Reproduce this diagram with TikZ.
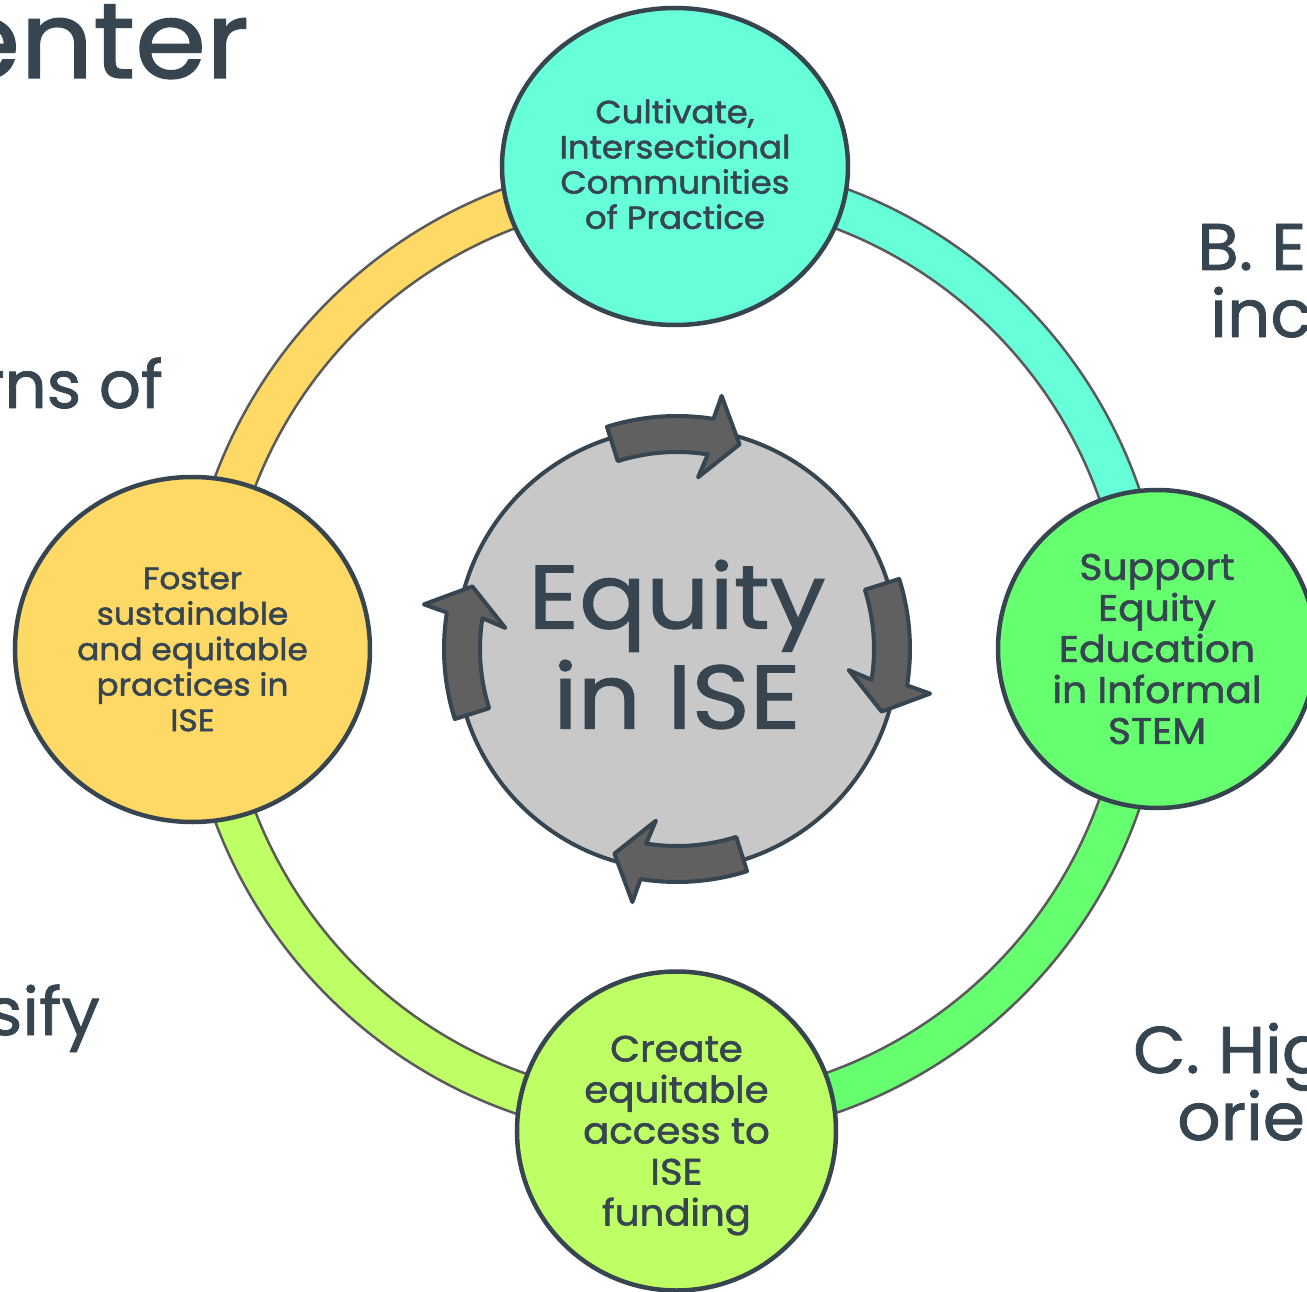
\documentclass[tikz,border=0pt]{standalone}
\usepackage{fontspec}
\setmainfont{Poppins}
\newfontfamily\semibold[FakeBold=1.6, FakeStretch=1.06]{Poppins}
\newfontfamily\medium[FakeBold=1.2, FakeStretch=1.03]{Poppins}
\newfontfamily\mediumnarrow[FakeBold=1.2]{Poppins}
\newfontfamily\bigmedium[FakeBold=1.3, FakeStretch=1.1]{Poppins}
\newfontfamily\headmedium[FakeBold=1.3, FakeStretch=1.07]{Poppins}
\usetikzlibrary{shapes.geometric}

\definecolor{slate}{RGB}{54,69,79}
\definecolor{ringgray}{RGB}{90,90,90}
\definecolor{aquaC}{RGB}{102,255,218}
\definecolor{greenC}{RGB}{102,255,112}
\definecolor{limeC}{RGB}{191,255,102}
\definecolor{goldC}{RGB}{255,217,102}
\definecolor{discgray}{RGB}{200,200,200}
\definecolor{arrowgray}{RGB}{96,96,96}

\tikzset{
	bubble/.style={ellipse, draw=slate, line width=4.5pt, inner sep=0pt},
	bubbletext/.style={align=center, text=slate, inner sep=0pt},
	ringpart/.style={draw=ringgray, line width=2.5pt},
	cyclearrow/.style={fill=arrowgray, draw=slate, line width=4pt, line join=round},
	edgetext/.style={text=slate, inner sep=0pt, font=\medium\fontsize{66}{67}\selectfont},
}

\begin{document}
\begin{tikzpicture}[x=1pt, y=1pt]

% parameters %{{{2

	\def\ringin{450}
	\def\ringout{491}
	\def\nodedist{482.5}

% frame %{{{2

	\useasboundingbox (-675,-642) rectangle (632,649);
	\clip (-675,-642) rectangle (632,649);

	\coordinate (O) at (0,0);
	\coordinate (G) at (2,0);

% ring %{{{2

	\foreach \start/\col in {90/aquaC, 0/greenC, -90/limeC, 180/goldC} {
		\draw[ringpart, fill=\col] (\start:\ringout)
			arc[start angle=\start, end angle={\start-90}, radius=\ringout]
			-- ({\start-90}:\ringin)
			arc[start angle={\start-90}, end angle=\start, radius=\ringin] -- cycle;
	}

% center disc and arrows %{{{2

	\node[circle, fill=discgray, draw=slate, line width=4pt, minimum size=442pt, inner sep=0pt] (equity) at (G) {};

	\foreach \rot in {0,-90,-180,-270} {
		\begin{scope}[shift={(G)}, rotate=\rot]
			\draw[cyclearrow] (107.5:197) -- (107.5:233)
				arc[start angle=107.5, end angle=81, radius=233]
				-- (80:257) -- (73:214) -- (83:173) -- (81:197)
				arc[start angle=81, end angle=107.5, radius=197] -- cycle;
		\end{scope}
	}

	\node[bubbletext, font=\bigmedium\fontsize{90}{100}\selectfont] (equity text) at ([yshift=4.5pt]G) {Equity\\in ISE};

% bubbles %{{{2

	\node[bubble, fill=aquaC, minimum width=346pt, minimum height=317pt] (cult) at (90:\nodedist) {};
	\node[bubble, fill=greenC, minimum size=318pt] (supp) at (0:482) {};
	\node[bubble, fill=limeC, minimum size=319pt] (fund) at (1.5,-482) {};
	\node[bubble, fill=goldC, minimum width=355pt, minimum height=345pt] (fost) at (-482.5,-0.5) {};

% bubble labels %{{{2

	\node[bubbletext, font=\semibold\fontsize{32}{35.2}\selectfont] (cult text) at ([yshift=2.5pt]cult)
		{Cultivate,\\Intersectional\\Communities\\of Practice};
	\node[bubbletext, font=\semibold\fontsize{37}{41}\selectfont] (supp text) at (supp)
		{Support\\Equity\\Education\\in Informal\\STEM};
	\node[bubbletext, font=\semibold\fontsize{36.5}{41}\selectfont] (fund text) at ([yshift=-4.5pt]fund)
		{Create\\equitable\\access to\\ISE\\funding};
	\node[bubbletext, font=\semibold\fontsize{31}{35.5}\selectfont] (fost text) at (fost)
		{Foster\\sustainable\\and equitable\\practices in\\ISE};

% edge texts %{{{2

	\node[edgetext, anchor=base east, font=\headmedium\fontsize{107}{107}\selectfont] (enter) at (-426,571) {enter};
	\node[edgetext, anchor=base east, font=\mediumnarrow\fontsize{66}{67}\selectfont] (rns of) at (-512,241) {rns of};
	\node[edgetext, anchor=base east] (sify) at (-575,-386) {sify};
	\node[edgetext, anchor=base west] (b line) at (522,379) {B. E};
	\node[edgetext, anchor=base west] (inc) at (535,312) {inc};
	\node[edgetext, anchor=base west] (c line) at (458,-424) {C. Hig};
	\node[edgetext, anchor=base west] (orie) at (502,-491) {orie};

% closing %{{{2

\end{tikzpicture}
\end{document}
